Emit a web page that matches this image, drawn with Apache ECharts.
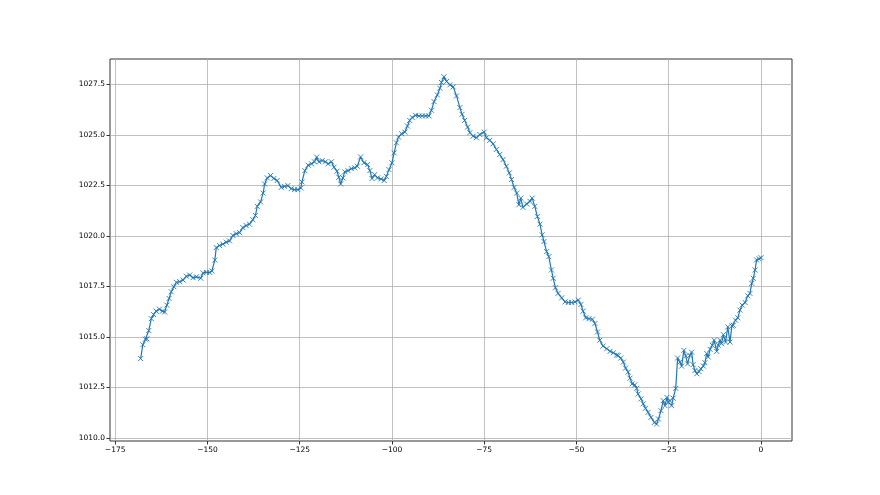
<!DOCTYPE html>
<html>
<head>
<meta charset="utf-8">
<script src="https://cdn.jsdelivr.net/npm/echarts@6/dist/echarts.min.js"></script>
<style>
html,body{margin:0;padding:0;background:#fff;}
#chart{width:880px;height:495px;}
</style>
</head>
<body>
<div id="chart"></div>
<script>
// Hours relative to now (x) and pressure readings (y)
const hours = [
-168.1,-167.5,-166.8,-166.4,-165.9,-165.2,-164.6,-163.9,-163,-162.2,-161.6,-161,-160.4,-159.8,-159.1,-158.4,-157.5,-156.6,-155.7,-154.8,
-153.9,-153,-151.8,-151.2,-150.3,-149.4,-148.8,-148,-147.6,-146.7,-145.8,-144.9,-144,-143.1,-142.2,-141.3,-140.4,-139.5,-138.6,-137.7,
-137,-136.5,-135.6,-134.9,-134.5,-133.8,-132.9,-132,-131.1,-130,-129.1,-128.2,-127.3,-126.4,-125.5,-124.7,-124.4,-123.6,-122.7,-121.8,
-121,-120.4,-119.8,-118.9,-118,-117.3,-116.4,-115.7,-114.9,-114.4,-113.9,-113.3,-112.8,-111.9,-111,-110.1,-109.4,-108.5,-107.6,-106.6,
-106,-105.4,-104.7,-103.9,-103,-102.1,-101.5,-100.8,-100,-99.4,-98.8,-98.2,-97.4,-96.5,-95.8,-95.2,-94.5,-93.6,-92.7,-91.8,
-90.9,-90,-89.3,-88.6,-87.7,-87,-86.6,-85.9,-85.2,-84.3,-83.4,-82.5,-81.6,-81,-80.3,-79.5,-78.9,-78,-77.1,-76.2,
-75,-74.4,-73.5,-72.6,-71.7,-70.8,-69.9,-69,-68.2,-67.6,-66.9,-66.2,-65.6,-65.1,-64.5,-63.5,-62.6,-62,-61.3,-60.6,
-59.9,-59.3,-58.8,-58.1,-57.5,-56.8,-56.3,-55.7,-55,-54,-53.1,-52.2,-51.3,-50.4,-49.5,-48.8,-48.2,-47.5,-46.6,-45.7,
-45,-44.3,-43.7,-42.8,-41.8,-40.9,-40,-39.1,-38.7,-38,-37.3,-36.7,-36,-35.5,-34.9,-34.2,-33.7,-33.3,-32.5,-31.9,
-31.3,-30.6,-29.8,-28.9,-28.3,-27.8,-27.1,-26.5,-26,-25.5,-25.1,-24.7,-24.2,-23.8,-23.1,-22.6,-22,-21.5,-20.9,-20.4,
-19.9,-19.3,-18.8,-18.4,-17.9,-17.4,-16.8,-16.3,-15.6,-15.2,-14.7,-14.3,-13.8,-13.2,-12.7,-12,-11.6,-11.1,-10.7,-10.2,
-9.6,-9,-8.4,-7.9,-7.5,-6.9,-6.3,-5.7,-5.1,-4.3,-3.6,-3,-2.5,-2.1,-1.6,-1.2,-0.5,0
];
const pressure = [
1013.92,1014.61,1014.88,1014.9,1015.31,1015.9,1016.1,1016.27,1016.37,1016.27,1016.23,1016.57,1016.9,1017.23,1017.48,1017.7,1017.73,1017.81,1018.0,1018.06,
1017.93,1017.97,1017.9,1018.17,1018.19,1018.19,1018.26,1018.8,1019.42,1019.52,1019.59,1019.69,1019.75,1020.02,1020.11,1020.16,1020.41,1020.51,1020.58,1020.8,
1021.01,1021.46,1021.68,1022.12,1022.57,1022.87,1022.99,1022.84,1022.74,1022.4,1022.45,1022.49,1022.34,1022.29,1022.29,1022.37,1022.67,1023.23,1023.5,1023.57,
1023.67,1023.9,1023.67,1023.73,1023.67,1023.57,1023.67,1023.4,1023.2,1022.9,1022.57,1022.87,1023.17,1023.23,1023.33,1023.37,1023.45,1023.91,1023.62,1023.53,
1023.23,1022.84,1023.03,1022.87,1022.82,1022.74,1022.95,1023.28,1023.62,1024.11,1024.61,1024.89,1025.06,1025.14,1025.44,1025.72,1025.86,1025.97,1025.94,1025.94,
1025.94,1025.94,1026.22,1026.65,1026.98,1027.31,1027.6,1027.88,1027.65,1027.48,1027.38,1026.93,1026.35,1026.02,1025.72,1025.39,1025.11,1024.94,1024.86,1025.02,
1025.14,1024.86,1024.73,1024.56,1024.28,1024.03,1023.78,1023.45,1023.12,1022.79,1022.4,1022.12,1021.54,1021.87,1021.41,1021.58,1021.71,1021.87,1021.46,1020.96,
1020.58,1020.05,1019.72,1019.22,1018.97,1018.31,1017.9,1017.43,1017.15,1016.93,1016.73,1016.7,1016.7,1016.73,1016.82,1016.6,1016.27,1015.94,1015.9,1015.87,
1015.66,1015.24,1014.83,1014.54,1014.41,1014.28,1014.21,1014.1,1014.08,1013.95,1013.75,1013.45,1013.25,1012.95,1012.67,1012.62,1012.45,1012.17,1011.93,1011.68,
1011.46,1011.26,1011.01,1010.76,1010.68,1010.93,1011.34,1011.84,1011.59,1012.0,1011.76,1011.84,1011.59,1011.96,1012.45,1013.95,1013.75,1013.55,1014.33,1014.05,
1013.66,1014.08,1014.24,1013.62,1013.33,1013.17,1013.28,1013.42,1013.55,1013.72,1014.17,1014.0,1014.38,1014.58,1014.83,1014.28,1014.58,1014.83,1014.66,1015.11,
1014.74,1015.49,1014.74,1015.54,1015.57,1015.82,1015.94,1016.32,1016.57,1016.7,1017.03,1017.15,1017.65,1017.9,1018.31,1018.81,1018.86,1018.92
];
const xTicks = [-175, -150, -125, -100, -75, -50, -25, 0];
const yTicks = [1010.0, 1012.5, 1015.0, 1017.5, 1020.0, 1022.5, 1025.0, 1027.5];

const chart = echarts.init(document.getElementById('chart'), null, {renderer: 'canvas'});
const font = 'DejaVu Sans';
const data = hours.map((h, i) => [h, pressure[i]]);

chart.setOption({
  animation: false,
  grid: {left: 110, top: 59, width: 682, height: 382, show: true, borderColor: '#333', borderWidth: 1, backgroundColor: 'transparent'},
  xAxis: {
    type: 'value', min: -176.4, max: 8.4,
    axisLine: {show: false, onZero: false},
    axisTick: {show: true, customValues: xTicks, length: 3.5, lineStyle: {color: '#333', width: 1}},
    axisLabel: {customValues: xTicks, color: '#000', fontFamily: font, fontSize: 7.5, margin: 5,
      formatter: v => (v < 0 ? '\u2212' + Math.abs(v) : String(v))},
    splitLine: {show: true, lineStyle: {color: '#b0b0b0', width: 0.8}}
  },
  yAxis: {
    type: 'value', min: 1009.84, max: 1028.76,
    axisLine: {show: false, onZero: false},
    axisTick: {show: true, customValues: yTicks, length: 3.5, lineStyle: {color: '#333', width: 1}},
    axisLabel: {customValues: yTicks, color: '#000', fontFamily: font, fontSize: 7.5, margin: 5,
      formatter: v => v.toFixed(1)},
    splitLine: {show: true, lineStyle: {color: '#b0b0b0', width: 0.8}}
  },
  series: [{
    type: 'line',
    data: data,
    symbol: 'path://M0,0L10,10M10,0L0,10',
    symbolSize: 5,
    showAllSymbol: true,
    lineStyle: {color: '#1f77b4', width: 1.2},
    itemStyle: {color: 'rgba(0,0,0,0)', borderColor: '#1f77b4', borderWidth: 0.9},
    emphasis: {disabled: true}
  }]
});
</script>
</body>
</html>
